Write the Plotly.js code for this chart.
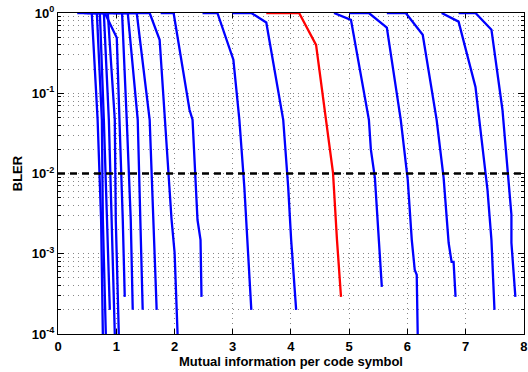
<!DOCTYPE html>
<html><head><meta charset="utf-8">
<script src="https://cdn.plot.ly/plotly-3.0.1.min.js"></script>
<style>html,body{margin:0;padding:0;background:#fff}</style>
</head><body><div id="chart" style="width:528px;height:372px"></div>
<script>
// Mutual information (x) and BLER (y) for each MCS curve
const mi01 = [0.33, 0.58, 0.68, 0.74, 0.77];            const bler01 = [1, 1, 0.0467, 0.00265, 0.0001];
const mi02 = [0.45, 0.667, 0.753, 0.770, 0.821];         const bler02 = [1, 1, 0.0467, 0.00265, 0.0001];
const mi03 = [0.50, 0.719, 0.787, 0.838, 0.890];         const bler03 = [1, 1, 0.0467, 0.00265, 0.0002];
const mi04 = [0.55, 0.787, 0.873, 0.924, 0.975];         const bler04 = [1, 1, 0.0467, 0.00265, 0.0001];
const mi05 = [0.60, 0.855, 0.975, 0.992, 1.044];         const bler05 = [1, 1, 0.0467, 0.00265, 0.0001];
const mi06 = [0.65, 0.804, 1.009, 1.061, 1.112, 1.146];  const bler06 = [1, 1, 0.49, 0.0467, 0.00265, 0.00029];
const mi07 = [0.75, 1.10, 1.180, 1.249, 1.283];          const bler07 = [1, 1, 0.0467, 0.00265, 0.0002];
const mi08 = [0.85, 1.198, 1.369, 1.420, 1.454];         const bler08 = [1, 1, 0.0467, 0.00265, 0.0002];
const mi09 = [0.95, 1.352, 1.574, 1.642, 1.694];         const bler09 = [1, 1, 0.0467, 0.00265, 0.0002];
const mi10 = [1.10, 1.574, 1.745, 1.831, 1.950, 2.002, 2.053]; const bler10 = [1, 1, 0.464, 0.0467, 0.00265, 0.00103, 0.0001];
const mi11 = [1.762, 1.985, 2.258, 2.310, 2.395, 2.447, 2.464]; const bler11 = [1, 1, 0.0623, 0.0467, 0.00265, 0.00149, 0.00029];
const mi12 = [2.481, 2.737, 3.011, 3.114, 3.199, 3.251, 3.319]; const bler12 = [1, 1, 0.262, 0.0467, 0.00682, 0.00149, 0.0002];
const mi13 = [2.994, 3.319, 3.576, 3.867, 3.952, 4.003, 4.089]; const bler13 = [1, 1, 0.76, 0.0467, 0.00682, 0.00149, 0.0002];
const miRed = [3.576, 4.140, 4.431, 4.602, 4.722, 4.790, 4.859]; const blerRed = [1, 1, 0.40, 0.0467, 0.0102, 0.00149, 0.00029];
const mi15 = [4.739, 5.030, 5.338, 5.372, 5.441, 5.509, 5.560]; const bler15 = [1, 0.82, 0.0467, 0.0198, 0.00883, 0.00149, 0.000387];
const mi16 = [4.996, 5.338, 5.646, 5.885, 6.005, 6.074, 6.125, 6.159, 6.176]; const bler16 = [1, 1, 0.656, 0.0467, 0.00834, 0.00149, 0.00063, 0.000546, 0.0001];
const mi17 = [5.646, 5.971, 6.262, 6.501, 6.621, 6.707, 6.758, 6.792, 6.826]; const bler17 = [1, 1, 0.536, 0.0467, 0.00883, 0.00137, 0.00079, 0.00079, 0.00029];
const mi18 = [6.587, 6.878, 7.168, 7.237, 7.374, 7.442, 7.494]; const bler18 = [1, 0.78, 0.12, 0.0467, 0.00626, 0.00149, 0.0002];
const mi19 = [6.878, 7.168, 7.442, 7.631, 7.785, 7.785, 7.853]; const bler19 = [1, 1, 0.62, 0.0623, 0.00306, 0.00137, 0.00029];

const targetX = [0, 8];
const targetBler = [0.01, 0.01];

const xTickVals = [0, 1, 2, 3, 4, 5, 6, 7, 8];
const xTickText = ['0', '1', '2', '3', '4', '5', '6', '7', '8'];
const yTickVals = [1e-4, 1e-3, 1e-2, 1e-1, 1];
const yTickText = ['10<sup>-4</sup>', '10<sup>-3</sup>', '10<sup>-2</sup>', '10<sup>-1</sup>', '10<sup>0</sup>'];

const blueSets = [
  [mi01, bler01], [mi02, bler02], [mi03, bler03], [mi04, bler04], [mi05, bler05],
  [mi06, bler06], [mi07, bler07], [mi08, bler08], [mi09, bler09], [mi10, bler10],
  [mi11, bler11], [mi12, bler12], [mi13, bler13], [mi15, bler15], [mi16, bler16],
  [mi17, bler17], [mi18, bler18], [mi19, bler19]
];

const traces = blueSets.map(([x, y]) => ({
  x: x, y: y, type: 'scatter', mode: 'lines',
  line: {color: '#0000ff', width: 2.3}, hoverinfo: 'skip', showlegend: false
}));
traces.push({x: miRed, y: blerRed, type: 'scatter', mode: 'lines',
  line: {color: '#ff0000', width: 2.3}, showlegend: false});
traces.push({x: targetX, y: targetBler, type: 'scatter', mode: 'lines',
  line: {color: '#000000', width: 2.5, dash: '7px,5px'}, showlegend: false});

const minorY = [];
for (let d = -4; d < 0; d++) for (let k = 2; k <= 9; k++) minorY.push(k * Math.pow(10, d));

const font = {family: 'Liberation Sans, Arial, sans-serif', size: 13, weight: 'bold', color: '#000'};
const gridDash = '1px,4px';

const layout = {
  width: 528, height: 372,
  margin: {l: 58, r: 4, t: 13, b: 38},
  paper_bgcolor: '#fff', plot_bgcolor: '#fff',
  font: font,
  showlegend: false,
  xaxis: {
    range: [0, 8.001], tickmode: 'array', tickvals: xTickVals, ticktext: xTickText,
    ticks: 'inside', ticklen: 5, tickcolor: '#000', tickwidth: 1,
    showline: true, linecolor: '#000', linewidth: 1, mirror: 'ticks',
    showgrid: true, gridcolor: '#888', gridwidth: 1, griddash: gridDash,
    zeroline: false, layer: 'below traces', ticklabeloverflow: 'allow',
    tickfont: font,
    title: {text: 'Mutual information per code symbol', font: font, standoff: 2}
  },
  yaxis: {
    type: 'log', range: [-4, 0], tickmode: 'array', tickvals: yTickVals, ticktext: yTickText,
    ticks: 'inside', ticklen: 6, tickcolor: '#000', tickwidth: 1,
    showline: true, linecolor: '#000', linewidth: 1, mirror: 'ticks',
    showgrid: true, gridcolor: '#888', gridwidth: 1, griddash: gridDash,
    zeroline: false, layer: 'below traces',
    minor: {tickmode: 'array', tickvals: minorY, ticks: 'inside', ticklen: 3, tickcolor: '#000',
            showgrid: true, gridcolor: '#888', gridwidth: 1, griddash: gridDash},
    tickfont: font,
    title: {text: 'BLER', font: font, standoff: 6}
  }
};

Plotly.newPlot('chart', traces, layout, {displayModeBar: false, staticPlot: true});
</script></body></html>
